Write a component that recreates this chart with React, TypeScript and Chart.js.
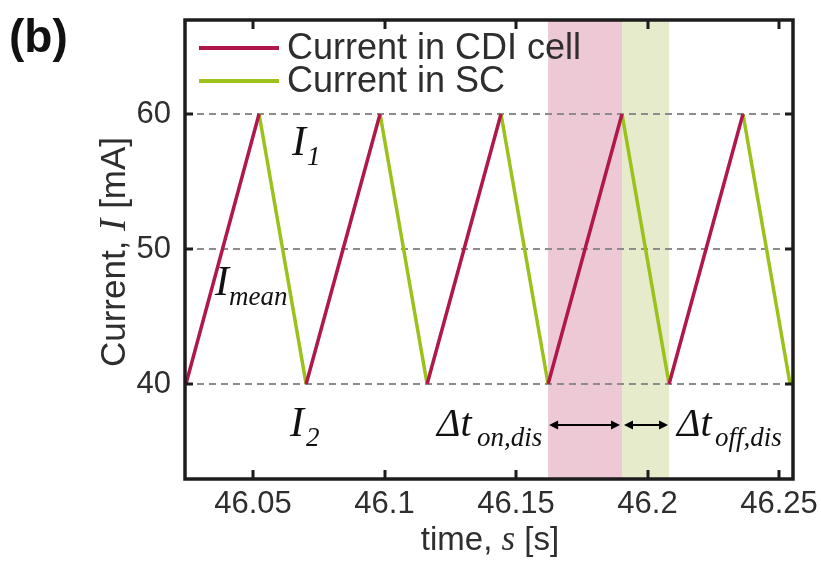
import React, { useEffect, useRef } from "react";
import { Chart, registerables } from "chart.js";

Chart.register(...registerables);

// ---- data ----
const I1 = 60;
const I2 = 40;
const valleyTimes = [46.0245, 46.0702, 46.1162, 46.1622, 46.2082, 46.2542];
const peakTimes = [46.0523, 46.0983, 46.1443, 46.1903, 46.2363];
const xTicks = [46.05, 46.1, 46.15, 46.2, 46.25];
const yTicks = [40, 50, 60];
const onBand = [46.1622, 46.1903];
const offBand = [46.1903, 46.2082];
const seriesLabels = ["Current in CDI cell", "Current in SC"];

const X_MIN = 46.02414;
const X_MAX = 46.25532;
const Y_MIN = 32.963;
const Y_MAX = 66.963;

const RED = "#B0174B";
const GREEN = "#9BC21B";
const PINK_BAND = "#EDC9D5";
const GREEN_BAND = "#E6ECCB";
const SANS = "'Liberation Sans', Arial, Helvetica, sans-serif";
const SERIF = "'Liberation Serif', 'Times New Roman', serif";
const TEXT = "#2e2e2e";

type P = { x: number; y: number | null };

function buildRed(): P[] {
  const out: P[] = [];
  peakTimes.forEach((pt, i) => {
    out.push({ x: valleyTimes[i], y: I2 });
    out.push({ x: pt, y: I1 });
    out.push({ x: (pt + valleyTimes[i + 1]) / 2, y: null });
  });
  return out;
}
function buildGreen(): P[] {
  const out: P[] = [];
  peakTimes.forEach((pt, i) => {
    out.push({ x: pt, y: I1 });
    out.push({ x: valleyTimes[i + 1], y: I2 });
    if (i < peakTimes.length - 1) out.push({ x: (valleyTimes[i + 1] + peakTimes[i + 1]) / 2, y: null });
  });
  return out;
}

type Piece = { t: string; font: string };
function drawPieces(ctx: CanvasRenderingContext2D, pieces: Piece[], x: number, y: number, center: boolean) {
  let total = 0;
  pieces.forEach((p) => {
    ctx.font = p.font;
    total += ctx.measureText(p.t).width;
  });
  let cx = center ? x - total / 2 : x;
  pieces.forEach((p) => {
    ctx.font = p.font;
    ctx.fillText(p.t, cx, y);
    cx += ctx.measureText(p.t).width;
  });
}

function arrow(ctx: CanvasRenderingContext2D, x1: number, x2: number, y: number) {
  const h = 9;
  const w = 4.5;
  ctx.beginPath();
  ctx.moveTo(x1 + h - 1, y);
  ctx.lineTo(x2 - h + 1, y);
  ctx.stroke();
  ctx.beginPath();
  ctx.moveTo(x1, y);
  ctx.lineTo(x1 + h, y - w);
  ctx.lineTo(x1 + h, y + w);
  ctx.closePath();
  ctx.fill();
  ctx.beginPath();
  ctx.moveTo(x2, y);
  ctx.lineTo(x2 - h, y - w);
  ctx.lineTo(x2 - h, y + w);
  ctx.closePath();
  ctx.fill();
}

const overlay = {
  id: "overlay",
  beforeDraw(chart: any) {
    const { ctx, chartArea: a, scales } = chart;
    const xs = scales.x;
    ctx.save();
    ctx.fillStyle = PINK_BAND;
    ctx.fillRect(xs.getPixelForValue(onBand[0]), a.top, xs.getPixelForValue(onBand[1]) - xs.getPixelForValue(onBand[0]), a.bottom - a.top);
    ctx.fillStyle = GREEN_BAND;
    ctx.fillRect(xs.getPixelForValue(offBand[0]), a.top, xs.getPixelForValue(offBand[1]) - xs.getPixelForValue(offBand[0]), a.bottom - a.top);
    ctx.restore();
  },
  afterDraw(chart: any) {
    const { ctx, chartArea: a, scales } = chart;
    const xs = scales.x;
    const ys = scales.y;
    ctx.save();
    // frame
    ctx.strokeStyle = "#1c1c1c";
    ctx.lineWidth = 3.5;
    ctx.strokeRect(a.left, a.top, a.right - a.left, a.bottom - a.top);
    // inner ticks
    ctx.lineWidth = 3;
    xTicks.forEach((v) => {
      const px = Math.round(xs.getPixelForValue(v));
      ctx.beginPath();
      ctx.moveTo(px, a.bottom);
      ctx.lineTo(px, a.bottom - 9);
      ctx.moveTo(px, a.top);
      ctx.lineTo(px, a.top + 9);
      ctx.stroke();
    });
    yTicks.forEach((v) => {
      const py = Math.round(ys.getPixelForValue(v));
      ctx.beginPath();
      ctx.moveTo(a.left, py);
      ctx.lineTo(a.left + 8, py);
      ctx.moveTo(a.right, py);
      ctx.lineTo(a.right - 8, py);
      ctx.stroke();
    });

    // legend
    const colors = [RED, GREEN];
    const rows = [48, 81];
    seriesLabels.forEach((lab, i) => {
      ctx.strokeStyle = colors[i];
      ctx.lineWidth = 4;
      ctx.beginPath();
      ctx.moveTo(a.left + 14, rows[i]);
      ctx.lineTo(a.left + 94, rows[i]);
      ctx.stroke();
      ctx.fillStyle = TEXT;
      ctx.font = `36px ${SANS}`;
      ctx.textBaseline = "middle";
      ctx.textAlign = "left";
      ctx.fillText(lab, a.left + 102, rows[i] + 1);
    });

    // annotations
    ctx.fillStyle = "#111";
    ctx.textBaseline = "alphabetic";
    ctx.textAlign = "left";
    const big = `italic 42px ${SERIF}`;
    const sub = `italic 27px ${SERIF}`;
    ctx.font = big;
    ctx.fillText("I", 292, 155);
    ctx.font = sub;
    ctx.fillText("1", 307, 165);
    ctx.font = big;
    ctx.fillText("I", 215, 295);
    ctx.font = sub;
    ctx.fillText("mean", 229, 305);
    ctx.font = big;
    ctx.fillText("I", 290, 436);
    ctx.font = sub;
    ctx.fillText("2", 306, 446);
    const dt = `italic 40px ${SERIF}`;
    ctx.font = dt;
    ctx.fillText("\u0394t", 437, 436);
    ctx.font = sub;
    ctx.fillText("on,dis", 477, 446);
    ctx.font = dt;
    ctx.fillText("\u0394t", 677, 436);
    ctx.font = sub;
    ctx.fillText("off,dis", 715, 446);

    // arrows
    ctx.strokeStyle = "#000";
    ctx.fillStyle = "#000";
    ctx.lineWidth = 2;
    const ay = 425;
    arrow(ctx, xs.getPixelForValue(onBand[0]) + 1, xs.getPixelForValue(onBand[1]) - 2, ay);
    arrow(ctx, xs.getPixelForValue(offBand[0]) + 2, xs.getPixelForValue(offBand[1]) - 1, ay);

    // axis titles
    ctx.fillStyle = TEXT;
    ctx.textBaseline = "middle";
    ctx.save();
    ctx.translate(115, 252);
    ctx.rotate(-Math.PI / 2);
    drawPieces(ctx, [
      { t: "Current, ", font: `35px ${SANS}` },
      { t: "I", font: `italic 37px ${SERIF}` },
      { t: " [mA]", font: `35px ${SANS}` },
    ], 0, 0, true);
    ctx.restore();
    ctx.textBaseline = "alphabetic";
    drawPieces(ctx, [
      { t: "time, ", font: `33px ${SANS}` },
      { t: "s", font: `italic 35px ${SERIF}` },
      { t: " [s]", font: `33px ${SANS}` },
    ], 490, 550, true);

    // panel label
    ctx.fillStyle = "#111";
    ctx.font = `bold 46px ${SANS}`;
    ctx.fillText("(b)", 9, 52);
    ctx.restore();
  },
};

const zeroPad = (s: any) => {
  s.paddingTop = 0;
  s.paddingBottom = 0;
  s.paddingLeft = 0;
  s.paddingRight = 0;
};

export default function App() {
  const ref = useRef<HTMLCanvasElement | null>(null);
  useEffect(() => {
    if (!ref.current) return;
    const chart = new Chart(ref.current, {
      type: "line",
      data: {
        datasets: [
          { label: seriesLabels[0], data: buildRed() as any, borderColor: RED, borderWidth: 3.5, pointRadius: 0, spanGaps: false, tension: 0 },
          { label: seriesLabels[1], data: buildGreen() as any, borderColor: GREEN, borderWidth: 3.5, pointRadius: 0, spanGaps: false, tension: 0 },
        ],
      },
      options: {
        animation: false,
        responsive: false,
        maintainAspectRatio: false,
        devicePixelRatio: 1,
        layout: { padding: { top: 20, right: 28, left: 0, bottom: 0 } },
        plugins: { legend: { display: false }, tooltip: { enabled: false }, title: { display: false } },
        scales: {
          x: {
            type: "linear",
            min: X_MIN,
            max: X_MAX,
            afterFit: (s: any) => { s.height = 88; zeroPad(s); },
            afterBuildTicks: (s: any) => { s.ticks = xTicks.map((v) => ({ value: v })); },
            grid: { display: false, drawTicks: false },
            border: { display: false },
            ticks: {
              font: { family: SANS, size: 31 },
              color: TEXT,
              padding: 7,
              maxRotation: 0,
              autoSkip: false,
              callback: (v: any) => String(Number(Number(v).toFixed(2))),
            },
          },
          y: {
            type: "linear",
            min: Y_MIN,
            max: Y_MAX,
            afterFit: (s: any) => { s.width = 185; zeroPad(s); },
            afterBuildTicks: (s: any) => { s.ticks = yTicks.map((v) => ({ value: v })); },
            grid: { color: "#8c8c8c", lineWidth: 2, drawTicks: false },
            border: { display: false, dash: [7, 5] },
            ticks: {
              font: { family: SANS, size: 31 },
              color: TEXT,
              padding: 14,
              callback: (v: any) => String(v),
            },
          },
        },
      },
      plugins: [overlay],
    });
    return () => chart.destroy();
  }, []);
  return (
    <div style={{ position: "absolute", left: 0, top: 0, width: 821, height: 567, background: "#fff" }}>
      <canvas ref={ref} width={821} height={567} style={{ width: 821, height: 567, display: "block" }} />
    </div>
  );
}
